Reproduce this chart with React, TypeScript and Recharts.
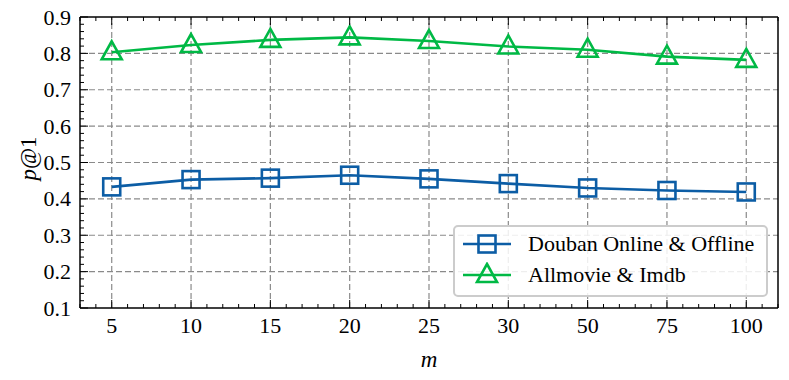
import React from 'react';
import { LineChart, Line, XAxis, YAxis, ReferenceLine } from 'recharts';

const categories = ['5', '10', '15', '20', '25', '30', '50', '75', '100'];
const douban = [0.433, 0.453, 0.457, 0.465, 0.455, 0.442, 0.43, 0.423, 0.419];
const allmovie = [0.803, 0.823, 0.837, 0.844, 0.834, 0.819, 0.81, 0.791, 0.782];

const BLUE = '#0C5DA5';
const GREEN = '#00B945';
const FONT = "'Liberation Serif', 'DejaVu Serif', serif";
const FS = 22;

const rows = categories.map((c, i) => ({ idx: i, douban: douban[i], allmovie: allmovie[i] }));

// tick positions: majors at each category, minors every 0.2
const xTicks = Array.from({ length: 45 }, (_, i) => Math.round((-0.4 + i * 0.2) * 10) / 10);
const yTicks = Array.from({ length: 41 }, (_, i) => Math.round((0.1 + i * 0.02) * 100) / 100);
const yMajor = [0.2, 0.3, 0.4, 0.5, 0.6, 0.7, 0.8];

const isInt = (v: number) => Math.abs(v - Math.round(v)) < 1e-6;
const isMajorY = (v: number) => Math.abs(v * 10 - Math.round(v * 10)) < 1e-6;

const MAJOR = 8;
const MINOR = 4;

const BottomTick = ({ x, y, payload }: any) => {
  const v = payload.value;
  const major = isInt(v);
  return (
    <g>
      <line x1={x} x2={x} y1={y} y2={y - (major ? MAJOR : MINOR)} stroke="#000" strokeWidth={1} />
      {major && v >= 0 && v < categories.length && (
        <text x={x} y={y + 25} textAnchor="middle" style={{ fontFamily: FONT, fontSize: FS }} fill="#000">
          {categories[Math.round(v)]}
        </text>
      )}
    </g>
  );
};

const TopTick = ({ x, y, payload }: any) => {
  const major = isInt(payload.value);
  return <line x1={x} x2={x} y1={y} y2={y + (major ? MAJOR : MINOR)} stroke="#000" strokeWidth={1} />;
};

const LeftTick = ({ x, y, payload }: any) => {
  const v = payload.value;
  const major = isMajorY(v);
  return (
    <g>
      <line x1={x} x2={x + (major ? MAJOR : MINOR)} y1={y} y2={y} stroke="#000" strokeWidth={1} />
      {major && (
        <text x={x - 9} y={y + 7.5} textAnchor="end" style={{ fontFamily: FONT, fontSize: FS }} fill="#000">
          {v.toFixed(1)}
        </text>
      )}
    </g>
  );
};

const RightTick = ({ x, y, payload }: any) => {
  const major = isMajorY(payload.value);
  return <line x1={x} x2={x - (major ? MAJOR : MINOR)} y1={y} y2={y} stroke="#000" strokeWidth={1} />;
};

const SquareDot = ({ cx, cy }: any) => (
  <rect x={cx - 8.5} y={cy - 8.5} width={17} height={17} fill="none" stroke={BLUE} strokeWidth={2.6} />
);

const TriangleDot = ({ cx, cy }: any) => (
  <path
    d={`M${cx},${cy - 11} L${cx + 10},${cy + 7} L${cx - 10},${cy + 7} Z`}
    fill="none"
    stroke={GREEN}
    strokeWidth={2.6}
  />
);

const legendItems = [
  { name: 'Douban Online & Offline', color: BLUE, shape: 'square' },
  { name: 'Allmovie & Imdb', color: GREEN, shape: 'triangle' },
];

const LegendBox = () => (
  <div
    style={{
      position: 'absolute',
      left: 453,
      top: 225,
      width: 311,
      height: 68,
      border: '2px solid #cccccc',
      borderRadius: 5,
      background: 'rgba(255,255,255,0.85)',
      fontFamily: FONT,
      fontSize: FS,
    }}
  >
    {legendItems.map((it, i) => (
      <div key={it.name} style={{ position: 'absolute', left: 7, top: 4 + i * 31, height: 26, display: 'flex', alignItems: 'center' }}>
        <svg width={50} height={26}>
          <line x1={1} x2={49} y1={13} y2={13} stroke={it.color} strokeWidth={2.6} />
          {it.shape === 'square' ? (
            <rect x={16.5} y={4.5} width={17} height={17} fill="none" stroke={it.color} strokeWidth={2.6} />
          ) : (
            <path d="M25,2 L35,20 L15,20 Z" fill="none" stroke={it.color} strokeWidth={2.6} />
          )}
        </svg>
        <span style={{ marginLeft: 16, color: '#000', whiteSpace: 'nowrap', lineHeight: '26px' }}>{it.name}</span>
      </div>
    ))}
  </div>
);

export default function App() {
  return (
    <div style={{ position: 'absolute', left: 0, top: 0, width: 789, height: 380, background: '#fff' }}>
      <LineChart width={789} height={380} data={rows} margin={{ top: 0, right: 0, bottom: 0, left: 0 }}>
        <XAxis
          xAxisId="b"
          dataKey="idx"
          type="number"
          domain={[-0.4, 8.4]}
          ticks={xTicks}
          interval={0}
          tickSize={0}
          tickMargin={0}
          tickLine={false}
          height={72}
          axisLine={{ stroke: '#000', strokeWidth: 1.5 }}
          tick={<BottomTick />}
          label={{
            content: ({ viewBox }: any) => (
              <text x={viewBox.x + viewBox.width / 2} y={viewBox.y + 59} textAnchor="middle" style={{ fontFamily: FONT, fontSize: 23, fontStyle: 'italic' }}>
                m
              </text>
            ),
          }}
        />
        <XAxis
          xAxisId="t"
          orientation="top"
          dataKey="idx"
          type="number"
          domain={[-0.4, 8.4]}
          ticks={xTicks}
          interval={0}
          tickSize={0}
          tickMargin={0}
          tickLine={false}
          height={17}
          axisLine={{ stroke: '#000', strokeWidth: 1.5 }}
          tick={<TopTick />}
        />
        <YAxis
          yAxisId="l"
          type="number"
          domain={[0.1, 0.9]}
          ticks={yTicks}
          interval={0}
          tickSize={0}
          tickMargin={0}
          tickLine={false}
          width={80}
          axisLine={{ stroke: '#000', strokeWidth: 1.5 }}
          tick={<LeftTick />}
          label={{
            content: ({ viewBox }: any) => {
              const cx = 28;
              const cy = viewBox.y + viewBox.height / 2 - 4;
              return (
                <text x={cx} y={cy} transform={`rotate(-90 ${cx} ${cy})`} textAnchor="middle" dominantBaseline="central" style={{ fontFamily: FONT, fontSize: 23 }}>
                  <tspan fontStyle="italic">p</tspan>@1
                </text>
              );
            },
          }}
        />
        <YAxis
          yAxisId="r"
          orientation="right"
          type="number"
          domain={[0.1, 0.9]}
          ticks={yTicks}
          interval={0}
          tickSize={0}
          tickMargin={0}
          tickLine={false}
          width={11}
          axisLine={{ stroke: '#000', strokeWidth: 1.5 }}
          tick={<RightTick />}
        />
        {categories.map((c, i) => (
          <ReferenceLine key={'vx' + c} xAxisId="b" yAxisId="l" x={i} stroke="#8a8a8a" strokeWidth={1.2} strokeDasharray="6 3" />
        ))}
        {yMajor.map((v) => (
          <ReferenceLine key={'hy' + v} xAxisId="b" yAxisId="l" y={v} stroke="#8a8a8a" strokeWidth={1.2} strokeDasharray="6 3" />
        ))}
        <Line
          xAxisId="b"
          yAxisId="l"
          dataKey="douban"
          name="Douban Online & Offline"
          stroke={BLUE}
          strokeWidth={2.6}
          dot={<SquareDot />}
          activeDot={false}
          isAnimationActive={false}
        />
        <Line
          xAxisId="b"
          yAxisId="l"
          dataKey="allmovie"
          name="Allmovie & Imdb"
          stroke={GREEN}
          strokeWidth={2.6}
          dot={<TriangleDot />}
          activeDot={false}
          isAnimationActive={false}
        />
      </LineChart>
      <LegendBox />
    </div>
  );
}
